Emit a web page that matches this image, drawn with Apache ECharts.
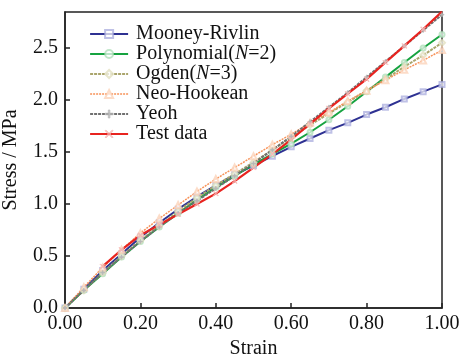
<!DOCTYPE html>
<html>
<head>
<meta charset="utf-8">
<script src="https://cdn.jsdelivr.net/npm/echarts@6/dist/echarts.min.js"></script>
<style>
  html, body { margin: 0; padding: 0; background: #fff; }
  #chart { width: 459px; height: 355px; }
</style>
</head>
<body>
<div id="chart"></div>
<script>
const strain = [0, 0.05, 0.1, 0.15, 0.2, 0.25, 0.3, 0.35, 0.4, 0.45, 0.5,
  0.55, 0.6, 0.65, 0.7, 0.75, 0.8, 0.85, 0.9, 0.95, 1.0];

const mooneyRivlin = [0, 0.18, 0.36, 0.52, 0.68, 0.82, 0.95, 1.07, 1.18, 1.28, 1.37,
  1.46, 1.55, 1.63, 1.71, 1.78, 1.86, 1.93, 2.01, 2.08, 2.15];
const polynomial = [0, 0.17, 0.33, 0.49, 0.64, 0.78, 0.91, 1.04, 1.16, 1.27, 1.38,
  1.48, 1.58, 1.69, 1.81, 1.94, 2.08, 2.22, 2.36, 2.5, 2.63];
const ogden = [0, 0.17, 0.34, 0.5, 0.65, 0.79, 0.93, 1.06, 1.18, 1.29, 1.4,
  1.52, 1.64, 1.76, 1.87, 1.98, 2.09, 2.2, 2.32, 2.43, 2.55];
const neoHookean = [0, 0.2, 0.39, 0.56, 0.72, 0.86, 0.99, 1.12, 1.24, 1.35, 1.46,
  1.57, 1.67, 1.78, 1.88, 1.99, 2.09, 2.19, 2.29, 2.38, 2.48];
const yeoh = [0, 0.17, 0.34, 0.49, 0.64, 0.78, 0.91, 1.03, 1.15, 1.27, 1.39,
  1.52, 1.65, 1.79, 1.93, 2.07, 2.22, 2.37, 2.52, 2.67, 2.82];
const testData = [null, null, 0.4, 0.56, 0.7, 0.8, 0.9, 1.0, 1.1, 1.22, 1.35,
  1.48, 1.62, 1.77, 1.92, 2.06, 2.2, 2.36, 2.52, 2.68, 2.85];

const xTicks = [0, 0.2, 0.4, 0.6, 0.8, 1.0];
const yTicks = [0, 0.5, 1.0, 1.5, 2.0, 2.5];

const font = 'Liberation Serif';

function pairs(values) {
  return strain.map((s, i) => [s, values[i]]);
}

const plusPath = 'path://M4,0h2v10h-2z M0,4h10v2h-10z';
const crossPath = 'path://M1,0L5,4L9,0L10,1L6,5L10,9L9,10L5,6L1,10L0,9L4,5L0,1z';

const seriesDefs = [
  { name: 'Mooney-Rivlin', data: mooneyRivlin, color: '#2e3192', width: 2, type: 'solid',
    symbol: 'emptyRect', symbolSize: 5, markColor: '#a4a6dc' },
  { name: 'Polynomial(N=2)', data: polynomial, color: '#16a340', width: 2, type: 'solid',
    symbol: 'emptyCircle', symbolSize: 5, markColor: '#a6dcb2' },
  { name: 'Ogden(N=3)', data: ogden, color: '#aaa56c', width: 2, type: [3, 1],
    symbol: 'emptyDiamond', symbolSize: 6, markColor: '#dedbb8' },
  { name: 'Neo-Hookean', data: neoHookean, color: '#f7935a', width: 1.5, type: [2, 1],
    symbol: 'emptyTriangle', symbolSize: 6, markColor: '#fbcdb0' },
  { name: 'Yeoh', data: yeoh, color: '#707070', width: 2, type: [3, 1],
    symbol: plusPath, symbolSize: 4, markColor: '#b5b5b5' },
  { name: 'Test data', data: testData, color: '#e8231f', width: 2.2, type: 'solid',
    symbol: crossPath, symbolSize: 5, markColor: '#f5b3b1' },
];

const series = seriesDefs.map((d) => ({
  name: d.name,
  type: 'line',
  data: pairs(d.data),
  showSymbol: true,
  symbol: d.symbol,
  symbolSize: d.symbolSize,
  connectNulls: false,
  lineStyle: { color: d.color, width: d.width, type: d.type },
  itemStyle: { color: d.markColor, borderColor: d.markColor, borderWidth: 1, opacity: 0.7 },
  emphasis: { disabled: true },
  animation: false,
}));

const chart = echarts.init(document.getElementById('chart'));
chart.setOption({
  backgroundColor: '#fff',
  grid: {
    left: 65, right: 17, top: 12, bottom: 47,
    outerBoundsMode: 'none',
    containLabel: false,
    show: true, borderColor: '#222', borderWidth: 1.5, backgroundColor: 'transparent',
  },
  legend: {
    orient: 'vertical',
    left: 84,
    top: 19,
    itemWidth: 38,
    itemHeight: 10,
    itemGap: 0,
    data: seriesDefs.map((d) => ({
      name: d.name,
      itemStyle: { color: d.markColor, borderColor: d.markColor, borderWidth: 1 },
      lineStyle: { color: d.color, width: d.width, type: d.type },
    })),
    formatter: (name) => {
      const m = name.match(/^(.*\()N(=\d\))$/);
      if (m) return `{a|${m[1]}}{i|N}{a|${m[2]}}`;
      return `{a|${name}}`;
    },
    textStyle: {
      fontFamily: font,
      fontSize: 20,
      color: '#111',
      padding: [0, 0, 0, 3],
      lineHeight: 19.3,
      rich: {
        a: { fontFamily: font, fontSize: 20, color: '#111', lineHeight: 19.3 },
        i: { fontFamily: font, fontSize: 20, color: '#111', fontStyle: 'italic', lineHeight: 19.3 },
      },
    },
  },
  xAxis: {
    type: 'value',
    min: 0,
    max: 1,
    interval: 0.2,
    name: 'Strain',
    nameLocation: 'middle',
    nameGap: 28,
    nameTextStyle: { fontFamily: font, fontSize: 20, color: '#111' },
    axisLine: { lineStyle: { color: '#222', width: 1.5 } },
    axisTick: { inside: true, length: 5, lineStyle: { color: '#222', width: 1.5 } },
    axisLabel: {
      fontFamily: font, fontSize: 20, color: '#111', margin: 6,
      formatter: (v) => (xTicks.includes(+v.toFixed(2)) ? v.toFixed(2) : ''),
    },
    splitLine: { show: false },
  },
  yAxis: {
    type: 'value',
    min: 0,
    max: 2.846,
    interval: 0.5,
    name: 'Stress / MPa',
    nameLocation: 'middle',
    nameGap: 44,
    nameTextStyle: { fontFamily: font, fontSize: 20, color: '#111' },
    axisLine: { lineStyle: { color: '#222', width: 1.5 } },
    axisTick: { inside: true, length: 5, lineStyle: { color: '#222', width: 1.5 } },
    axisLabel: {
      fontFamily: font, fontSize: 20, color: '#111', margin: 7,
      showMaxLabel: false,
      formatter: (v) => (yTicks.includes(+v.toFixed(1)) && Math.abs(v - +v.toFixed(1)) < 1e-6 ? v.toFixed(1) : ''),
    },
    splitLine: { show: false },
  },
  series,
});
</script>
</body>
</html>
